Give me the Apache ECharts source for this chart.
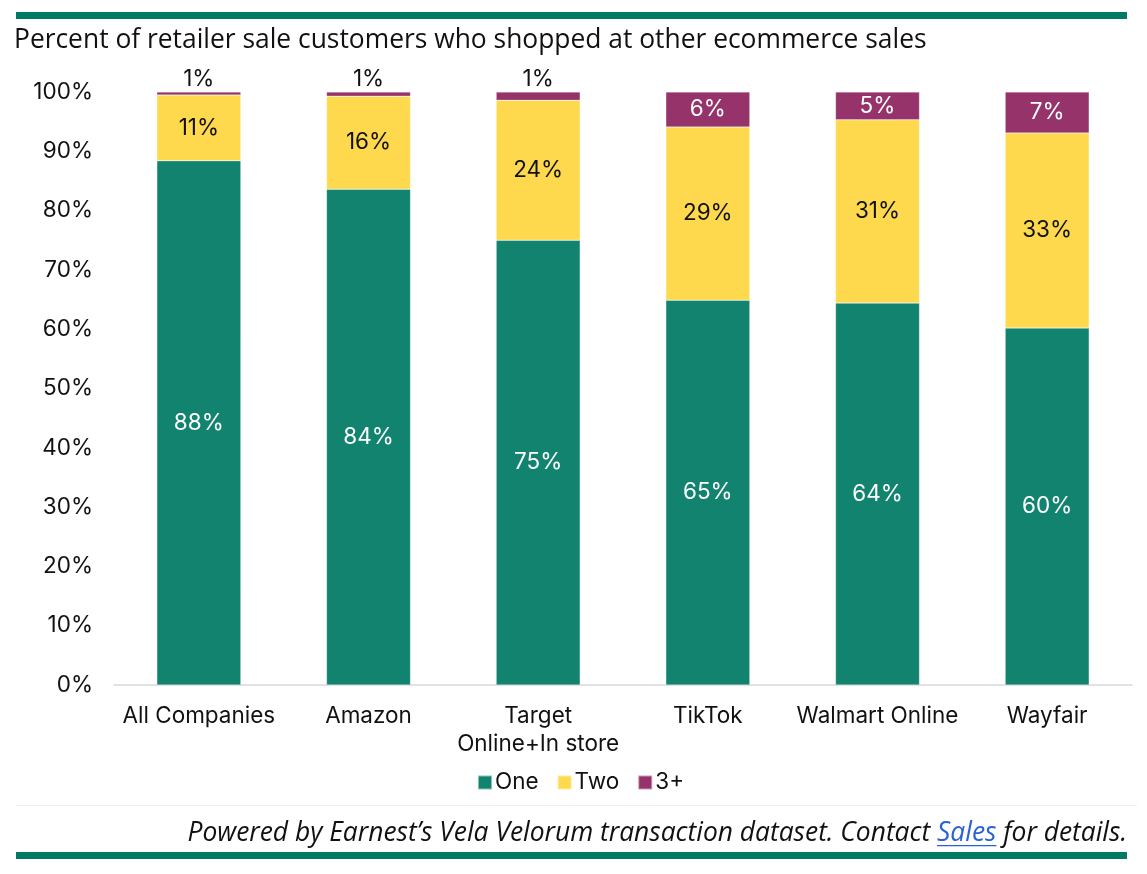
<!DOCTYPE html>
<html><head><meta charset="utf-8">
<script src="https://cdn.jsdelivr.net/npm/echarts@6/dist/echarts.min.js"></script>
<style>html,body{margin:0;padding:0;background:#fff}#c{width:1147px;height:874px}</style>
</head><body><div id="c"></div>
<script>
const categories = ['All Companies', 'Amazon', 'Target\nOnline+In store', 'TikTok', 'Walmart Online', 'Wayfair'];
const seriesNames = ['One', 'Two', '3+'];
const oneValues = [88.4, 83.6, 75.0, 64.9, 64.4, 60.2];
const twoValues = [11.1, 15.7, 23.6, 29.2, 30.9, 32.9];
const threeValues = [0.5, 0.7, 1.4, 5.9, 4.7, 6.9];
const colors = ['#12836f', '#fed94e', '#96336a'];
const titleText = 'Percent of retailer sale customers who shopped at other ecommerce sales';
const footerA = 'Powered by Earnest\u2019s Vela Velorum transaction dataset. Contact ';
const footerLink = 'Sales';
const footerB = ' for details.';

const chart = echarts.init(document.getElementById('c'));
const FF = 'Inter, "Noto Sans", sans-serif';
const FS = 22.5;
const pct = p => Math.round(p.value) + '%';

function mkSeries(name, vals, idx) {
  return {
    name: name, type: 'bar', stack: 'total', barWidth: 84,
    itemStyle: { color: colors[idx], borderColor: 'rgba(255,255,255,0.5)', borderWidth: 0.5 },
    data: vals.map(v => {
      let label;
      if (idx === 2 && v < 2) {
        label = { show: true, position: 'top', color: '#111', distance: 1 };
      } else {
        label = { show: true, position: 'inside', color: idx === 1 ? '#111' : '#fff' };
      }
      return { value: v, label: label };
    }),
    label: { formatter: pct, fontFamily: FF, fontSize: FS }
  };
}

const cv = document.createElement('canvas').getContext('2d');
const footFont = 'italic 26.4px "Open Sans"';
cv.font = footFont;
const wB = cv.measureText(footerB).width;
const wL = cv.measureText(footerLink).width;
const rightX = 1127;

chart.setOption({
  animation: false,
  grid: { left: 114, right: 15, top: 92, bottom: 189 },
  legend: {
    data: seriesNames, left: 472, top: 766, itemWidth: 14, itemHeight: 14, itemGap: 18,
    icon: 'rect',
    textStyle: { fontFamily: FF, fontSize: FS, color: '#111', padding: [0, 0, 0, -2] }
  },
  xAxis: {
    type: 'category', data: categories,
    axisLine: { lineStyle: { color: '#d9d9d9', width: 1.5 } },
    axisTick: { show: false },
    axisLabel: { fontFamily: FF, fontSize: FS, color: '#111', margin: 17, lineHeight: 28, interval: 0 }
  },
  yAxis: {
    type: 'value', min: 0, max: 100, interval: 10,
    splitLine: { show: false },
    axisLine: { show: false }, axisTick: { show: false },
    axisLabel: { formatter: '{value}%', fontFamily: FF, fontSize: FS, color: '#111', margin: 21 }
  },
  series: [mkSeries(seriesNames[0], oneValues, 0), mkSeries(seriesNames[1], twoValues, 1), mkSeries(seriesNames[2], threeValues, 2)],
  graphic: [
    { type: 'rect', shape: { x: 16, y: 12, width: 1111, height: 7 }, style: { fill: '#007a64' } },
    { type: 'text', x: 14, y: 40, style: { text: titleText, font: '26.4px "Open Sans"', fill: '#111', textVerticalAlign: 'middle' } },
    { type: 'rect', shape: { x: 16, y: 805, width: 1121, height: 1 }, style: { fill: '#f0f0f0' } },
    { type: 'text', x: rightX, y: 833, style: {
        text: '{a|' + footerA + '}{b|' + footerLink + '}{a|' + footerB + '}',
        align: 'right', verticalAlign: 'middle',
        rich: {
          a: { font: footFont, fill: '#111' },
          b: { font: footFont, fill: '#2a62d6' }
        }
    } },
    { type: 'rect', shape: { x: rightX - wB - wL, y: 845, width: wL, height: 1.3 }, style: { fill: '#2a62d6' } },
    { type: 'rect', shape: { x: 16, y: 852, width: 1111, height: 7 }, style: { fill: '#007a64' } }
  ]
});
</script></body></html>
